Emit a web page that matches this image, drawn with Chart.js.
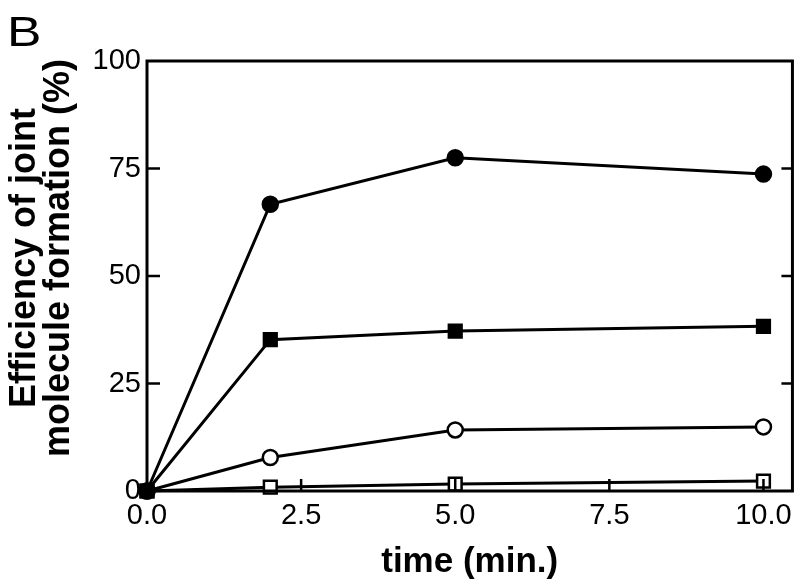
<!DOCTYPE html>
<html>
<head>
<meta charset="utf-8">
<script src="https://cdn.jsdelivr.net/npm/chart.js@4/dist/chart.umd.min.js"></script>
<style>
  html, body { margin: 0; padding: 0; background: #fff; }
  #wrap { width: 800px; height: 584px; position: relative; }
</style>
</head>
<body>
<div id="wrap"><canvas id="c" width="800" height="584"></canvas></div>
<script>
// time (min.)
const times = [0, 2, 5, 10];
// Efficiency of joint molecule formation (%)
const filledCircle = [0, 66.7, 77.5, 73.7];
const filledSquare = [0, 35.2, 37.2, 38.3];
const openCircle   = [0, 7.8, 14.2, 14.9];
const openSquare   = [0, 0.9, 1.6, 2.3];
const xTickValues = [0, 2.5, 5, 7.5, 10];
const yTickValues = [0, 25, 50, 75, 100];
const panelLabel = 'B';
const xTitle = 'time (min.)';
const yTitle = ['Efficiency of joint', 'molecule formation (%)'];

const FONT = "'Liberation Sans', Arial, Helvetica, sans-serif";

function pts(arr) { return times.map((t, i) => ({ x: t, y: arr[i] })); }

function ds(label, data, style, fill) {
  return {
    label, data: pts(data),
    borderColor: '#000', borderWidth: 3,
    pointStyle: style,
    pointRadius: style === 'rect' ? 9 : 7.5,
    pointHoverRadius: style === 'rect' ? 9 : 7.5,
    pointBackgroundColor: fill,
    pointBorderColor: '#000',
    pointBorderWidth: 2.5,
    tension: 0, clip: false, fill: false
  };
}

const framePlugin = {
  id: 'frame',
  afterDraw(chart) {
    const { ctx, chartArea: a, scales } = chart;
    ctx.save();
    ctx.strokeStyle = '#000';
    ctx.lineWidth = 3;
    ctx.strokeRect(a.left, a.top, a.right - a.left, a.bottom - a.top);
    ctx.lineWidth = 2.5;
    ctx.beginPath();
    yTickValues.forEach(v => {
      const y = scales.y.getPixelForValue(v);
      if (v === 0 || v === 100) return;
      ctx.moveTo(a.left, y); ctx.lineTo(a.left + 13, y);
      ctx.moveTo(a.right, y); ctx.lineTo(a.right - 11, y);
    });
    xTickValues.forEach(v => {
      const x = scales.x.getPixelForValue(v);
      if (v === 0) return;
      ctx.moveTo(x, a.bottom); ctx.lineTo(x, a.bottom - 12);
    });
    ctx.stroke();
    ctx.fillStyle = '#000';
    // panel label
    ctx.save();
    ctx.font = "43px " + FONT;
    ctx.textBaseline = 'alphabetic';
    ctx.textAlign = 'left';
    ctx.translate(7, 46);
    ctx.scale(1.2, 1);
    ctx.fillText(panelLabel, 0, 0);
    ctx.restore();
    // y axis title (two lines)
    ctx.save();
    ctx.font = "bold 36px " + FONT;
    ctx.textAlign = 'center';
    ctx.textBaseline = 'middle';
    const yc = (a.top + a.bottom) / 2 - 18;
    [25, 59].forEach((x, i) => {
      ctx.save();
      ctx.translate(x, yc);
      ctx.rotate(-Math.PI / 2);
      ctx.fillText(yTitle[i], 0, 0);
      ctx.restore();
    });
    ctx.restore();
    ctx.restore();
  }
};

new Chart(document.getElementById('c'), {
  type: 'line',
  data: {
    datasets: [
      ds('filled circle', filledCircle, 'circle', '#000'),
      ds('filled square', filledSquare, 'rect', '#000'),
      ds('open circle', openCircle, 'circle', '#fff'),
      ds('open square', openSquare, 'rect', '#fff')
    ]
  },
  options: {
    responsive: false,
    animation: false,
    events: [],
    layout: { padding: { top: 61, right: 7, left: 0, bottom: 0 }, autoPadding: false },
    plugins: { legend: { display: false }, tooltip: { enabled: false }, title: { display: false } },
    scales: {
      x: {
        type: 'linear', min: 0, max: 10.47,
        grid: { display: false, drawTicks: false },
        border: { display: false },
        afterBuildTicks(scale) { scale.ticks = xTickValues.map(v => ({ value: v })); },
        afterFit(scale) { scale.height = 93; },
        ticks: {
          color: '#000', padding: 8,
          font: { family: FONT, size: 29 },
          callback: v => Number(v).toFixed(1),
          maxRotation: 0, autoSkip: false
        },
        title: {
          display: true, text: xTitle, color: '#000',
          font: { family: FONT, size: 35, weight: 'bold' },
          padding: { top: 0, bottom: 1 }
        }
      },
      y: {
        type: 'linear', min: 0, max: 100,
        grid: { display: false, drawTicks: false },
        border: { display: false },
        afterBuildTicks(scale) { scale.ticks = yTickValues.map(v => ({ value: v })); },
        afterFit(scale) { scale.width = 147; },
        ticks: {
          color: '#000', padding: 6,
          font: { family: FONT, size: 29 },
          callback: v => String(v),
          autoSkip: false
        },
        title: { display: false }
      }
    }
  },
  plugins: [framePlugin]
});
</script>
</body>
</html>
